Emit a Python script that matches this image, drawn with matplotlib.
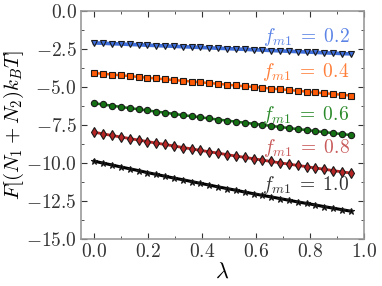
import matplotlib
matplotlib.use('Agg')
import matplotlib.pyplot as plt
from matplotlib.ticker import MultipleLocator

plt.rcParams['mathtext.fontset'] = 'cm'
plt.rcParams['font.family'] = 'serif'
plt.rcParams['font.serif'] = ['cmr10', 'DejaVu Serif']
plt.rcParams['axes.formatter.use_mathtext'] = True

lam = [0.0000, 0.0328, 0.0655, 0.0983, 0.1310, 0.1638, 0.1966, 0.2293, 0.2621, 0.2948,
       0.3276, 0.3603, 0.3931, 0.4259, 0.4586, 0.4914, 0.5241, 0.5569, 0.5897, 0.6224,
       0.6552, 0.6879, 0.7207, 0.7534, 0.7862, 0.8190, 0.8517, 0.8845, 0.9172, 0.9500]

f02 = [-2.10, -2.12, -2.15, -2.17, -2.20, -2.22, -2.25, -2.27, -2.30, -2.32,
       -2.35, -2.37, -2.40, -2.42, -2.45, -2.47, -2.50, -2.52, -2.55, -2.57,
       -2.60, -2.62, -2.65, -2.67, -2.70, -2.72, -2.75, -2.77, -2.80, -2.82]
f04 = [-4.08, -4.13, -4.18, -4.23, -4.28, -4.34, -4.39, -4.44, -4.49, -4.54,
       -4.59, -4.64, -4.69, -4.74, -4.79, -4.85, -4.90, -4.95, -5.00, -5.05,
       -5.10, -5.15, -5.20, -5.25, -5.30, -5.36, -5.41, -5.46, -5.51, -5.56]
f06 = [-6.07, -6.15, -6.23, -6.31, -6.39, -6.46, -6.54, -6.62, -6.69, -6.77,
       -6.85, -6.92, -6.99, -7.07, -7.14, -7.21, -7.28, -7.35, -7.42, -7.49,
       -7.56, -7.63, -7.70, -7.77, -7.83, -7.90, -7.97, -8.03, -8.10, -8.16]
f08 = [-7.98, -8.08, -8.19, -8.29, -8.39, -8.49, -8.59, -8.69, -8.78, -8.88,
       -8.98, -9.07, -9.17, -9.26, -9.35, -9.45, -9.54, -9.63, -9.72, -9.81,
       -9.90, -9.99, -10.07, -10.16, -10.24, -10.33, -10.41, -10.50, -10.58, -10.66]
f10 = [-9.88, -10.01, -10.13, -10.26, -10.38, -10.50, -10.63, -10.75, -10.87, -10.99,
       -11.10, -11.22, -11.34, -11.45, -11.57, -11.68, -11.79, -11.91, -12.02, -12.13,
       -12.23, -12.34, -12.45, -12.56, -12.66, -12.76, -12.87, -12.97, -13.07, -13.17]

labels = ['0.2', '0.4', '0.6', '0.8', '1.0']
label_y = [-1.7, -4.0, -6.85, -9.0, -11.45]
series = [f02, f04, f06, f08, f10]
line_colors = ['#3f6fdc', '#ff5a05', '#137013', '#b52525', '#000000']
text_colors = ['#5c84e6', '#ff7f3a', '#2a8a2a', '#c85a5a', '#333333']
markers = ['v', 's', 'o', 'd', '*']
msizes = [4.5, 4.2, 4.5, 5.5, 4.5]
lws = [2.6, 1.8, 1.8, 2.0, 2.2]

fig = plt.figure(figsize=(3.82, 2.86), dpi=100)
ax = fig.add_axes([0.2115, 0.1643, 0.7422, 0.7972])

for ys, c, m, ms, lw in zip(series, line_colors, markers, msizes, lws):
    ax.plot(lam, ys, color=c, lw=lw, marker=m, ms=ms,
            mfc=c, mec='#1a1a1a', mew=0.8)

for lab, yy, tc in zip(labels, label_y, text_colors):
    ax.text(0.945, yy, r'$f_{m1}\;=\;%s$' % lab, color=tc, fontsize=14,
            ha='right', va='center')

ax.set_xlim(-0.05, 1.0)
ax.set_ylim(-15, 0)
ax.xaxis.set_major_locator(MultipleLocator(0.2))
ax.xaxis.set_minor_locator(MultipleLocator(0.1))
ax.yaxis.set_major_locator(MultipleLocator(2.5))
ax.yaxis.set_minor_locator(MultipleLocator(1.25))
ax.tick_params(which='both', direction='in', top=True, right=True,
               labelsize=14, labelcolor='#333333', color='#333333')
ax.tick_params(which='major', length=4, pad=3)
ax.tick_params(which='minor', length=2)
for s in ax.spines.values():
    s.set_color('#999999')
    s.set_linewidth(1.2)

ax.set_xlabel(r'$\lambda$', fontsize=16, labelpad=1)
ax.set_ylabel(r'$F[(N_1+N_2)k_BT]$', fontsize=15, labelpad=0)

fig.savefig('out.png', dpi=100)
